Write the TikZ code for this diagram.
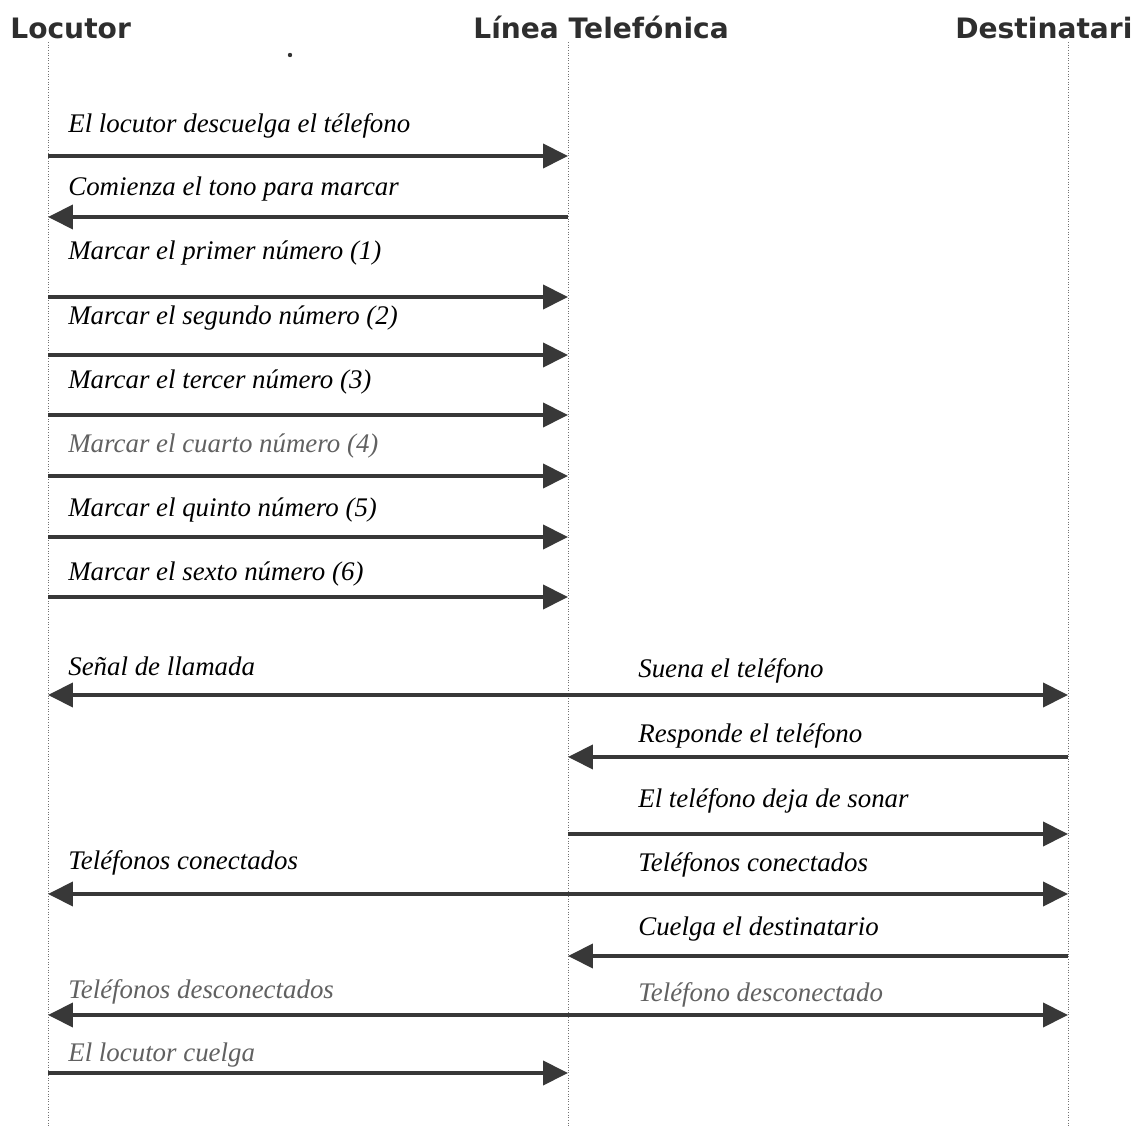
\documentclass[tikz,border=0pt]{standalone}
\usepackage{fontspec}
\setmainfont{Liberation Serif}
\newfontfamily\headfont{DejaVu Sans}
\usepackage{tikz}
\usetikzlibrary{arrows.meta}

\begin{document}
\begin{tikzpicture}[x=0.02cm, y=-0.02cm,
  lifeline/.style={black!55, densely dotted, line width=0.5pt},
  msg/.style={black!78, line width=2.3pt, -{Triangle[length=0.5cm, width=0.48cm]}},
  msgboth/.style={black!78, line width=2.3pt, {Triangle[length=0.5cm, width=0.48cm]}-{Triangle[length=0.5cm, width=0.48cm]}},
  hdr/.style={anchor=base west, inner sep=0pt, text=black!82, font=\headfont\bfseries\fontsize{16}{19}\selectfont},
  lbl/.style={anchor=base west, inner sep=0pt, text=black, font=\itshape\fontsize{15.3}{18}\selectfont},
  faint/.style={text=black!62}]
\useasboundingbox (0,0) rectangle (1134,1128);

\node[hdr] (loc) at (10,39) {Locutor};
\node[hdr] (lin) at (473,39) {Línea Telefónica};
\node[hdr] (des) at (955,39) {Destinatari};

\foreach \x in {48, 568, 1068}
\draw[lifeline] (\x,42) -- (\x,1128);

\fill[black!80] (290,55) circle (2.2);

\foreach \n/\y in {1/156, 2/217, 3/297, 4/355, 5/415, 6/476, 7/537, 8/597, 9/695, 10/757, 11/834, 12/894, 13/956, 14/1015, 15/1073}
{
\coordinate (a\n) at (48,\y);
\coordinate (b\n) at (568,\y);
\coordinate (c\n) at (1068,\y);
}

\node[lbl] (t1) at (68,133) {El locutor descuelga el télefono};
\node[lbl] (t2) at (68,196) {Comienza el tono para marcar};
\node[lbl] (t3) at (68,260) {Marcar el primer número (1)};
\node[lbl] (t4) at (68,325) {Marcar el segundo número (2)};
\node[lbl] (t5) at (68,389) {Marcar el tercer número (3)};
\node[lbl, faint] (t6) at (68,453) {Marcar el cuarto número (4)};
\node[lbl] (t7) at (68,517) {Marcar el quinto número (5)};
\node[lbl] (t8) at (68,581) {Marcar el sexto número (6)};
\node[lbl] (t9) at (68,676) {Señal de llamada};
\node[lbl] (t9r) at (638,678) {Suena el teléfono};
\node[lbl] (t10) at (638,743) {Responde el teléfono};
\node[lbl] (t11) at (638,808) {El teléfono deja de sonar};
\node[lbl] (t12) at (68,869) {Teléfonos conectados};
\node[lbl] (t12r) at (638,871) {Teléfonos conectados};
\node[lbl] (t13) at (638,935) {Cuelga el destinatario};
\node[lbl, faint] (t14) at (68,998) {Teléfonos desconectados};
\node[lbl, faint] (t14r) at (638,1001) {Teléfono desconectado};
\node[lbl, faint] (t15) at (68,1061) {El locutor cuelga};

\draw[msg] (a1) -- (b1);
\draw[msg] (b2) -- (a2);
\foreach \n in {3,...,8}
\draw[msg] (a\n) -- (b\n);
\draw[msgboth] (a9) -- (c9);
\draw[msg] (c10) -- (b10);
\draw[msg] (b11) -- (c11);
\draw[msgboth] (a12) -- (c12);
\draw[msg] (c13) -- (b13);
\draw[msgboth] (a14) -- (c14);
\draw[msg] (a15) -- (b15);

\end{tikzpicture}
\end{document}
